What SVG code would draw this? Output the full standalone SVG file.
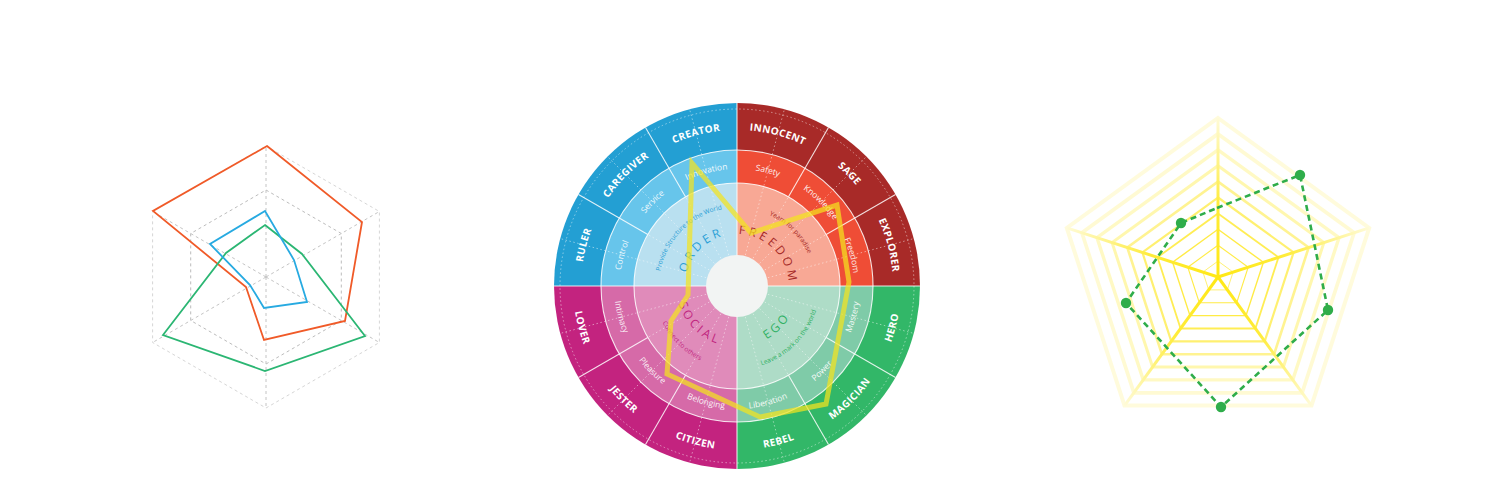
<svg xmlns="http://www.w3.org/2000/svg" width="1500" height="499" viewBox="0 0 1500 499">
<defs>
<style>
.grid{fill:none;stroke-dasharray:3 3;stroke-width:1}
.series{fill:none;stroke-width:1.8;stroke-linejoin:miter}
.wl{stroke:#fff;stroke-width:1.1;fill:none;opacity:.85}
.dot{stroke:#fff;stroke-width:.8;stroke-dasharray:1.5 2.5;fill:none;opacity:.6}
.outer{font-family:"Open Sans","Liberation Sans",sans-serif;font-weight:700;font-size:10px;letter-spacing:.4px;fill:#fff}
.mid{font-family:"Open Sans","Liberation Sans",sans-serif;font-size:8.5px;fill:#fff;opacity:.9}
.title{font-family:"Open Sans","Liberation Sans",sans-serif;font-size:12px;letter-spacing:3.2px}
.sub{font-family:"Open Sans","Liberation Sans",sans-serif;font-size:6.5px}
.lvl{fill:none;stroke:#ffe824;stroke-linejoin:miter}
</style>
<!-- outer label paths -->
<path id="pInnocent" d="M737,130 A156,156 0 0 1 815,150.9"/>
<path id="pSage" d="M815,150.9 A156,156 0 0 1 872.1,208"/>
<path id="pExplorer" d="M872.1,208 A156,156 0 0 1 893,286"/>
<path id="pCreator" d="M659,150.9 A156,156 0 0 1 737,130"/>
<path id="pCaregiver" d="M601.9,208 A156,156 0 0 1 659,150.9"/>
<path id="pRuler" d="M581,286 A156,156 0 0 1 601.9,208"/>
<path id="pHero" d="M879,368 A164,164 0 0 0 901,286"/>
<path id="pMagician" d="M819,428 A164,164 0 0 0 879,368"/>
<path id="pRebel" d="M737,450 A164,164 0 0 0 819,428"/>
<path id="pCitizen" d="M655,428 A164,164 0 0 0 737,450"/>
<path id="pJester" d="M595,368 A164,164 0 0 0 655,428"/>
<path id="pLover" d="M573,286 A164,164 0 0 0 595,368"/>
<!-- middle label paths -->
<path id="mSafety" d="M737,169 A117,117 0 0 1 795.5,184.7"/>
<path id="mKnowledge" d="M795.5,184.7 A117,117 0 0 1 838.3,227.5"/>
<path id="mFreedom" d="M838.3,227.5 A117,117 0 0 1 854,286"/>
<path id="mInnovation" d="M678.5,184.7 A117,117 0 0 1 737,169"/>
<path id="mService" d="M635.7,227.5 A117,117 0 0 1 678.5,184.7"/>
<path id="mControl" d="M620,286 A117,117 0 0 1 635.7,227.5"/>
<path id="mMastery" d="M843.5,347.5 A123,123 0 0 0 860,286"/>
<path id="mPower" d="M798.5,392.5 A123,123 0 0 0 843.5,347.5"/>
<path id="mLiberation" d="M737,409 A123,123 0 0 0 798.5,392.5"/>
<path id="mBelonging" d="M675.5,392.5 A123,123 0 0 0 737,409"/>
<path id="mPleasure" d="M630.5,347.5 A123,123 0 0 0 675.5,392.5"/>
<path id="mIntimacy" d="M614,286 A123,123 0 0 0 630.5,347.5"/>
<!-- inner title paths -->
<path id="tFreedom" d="M723.5,235.8 A52,52 0 0 1 787.2,299.5"/>
<path id="tOrder" d="M686.8,299.5 A52,52 0 0 1 750.5,235.8"/>
<path id="tSocial" d="M678.1,270.2 A61,61 0 0 0 752.8,344.9"/>
<path id="tEgo" d="M721.2,344.9 A61,61 0 0 0 795.9,270.2"/>
<path id="sOrder" d="M666.3,319 A78,78 0 0 1 770,215.3"/>
<path id="sFreedom" d="M704,215.3 A78,78 0 0 1 807.7,319"/>
<path id="sSocial" d="M661.8,250.9 A83,83 0 0 0 772.1,361.2"/>
<path id="sEgo" d="M701.9,361.2 A83,83 0 0 0 812.2,250.9"/>
<linearGradient id="sp0" gradientUnits="userSpaceOnUse" x1="1218" y1="277" x2="1218" y2="118"><stop offset="0" stop-color="#ffe814"/><stop offset=".45" stop-color="#ffec3a"/><stop offset="1" stop-color="#fffbd8"/></linearGradient>
<linearGradient id="sp1" gradientUnits="userSpaceOnUse" x1="1218" y1="277" x2="1369.2" y2="227.9"><stop offset="0" stop-color="#ffe814"/><stop offset=".45" stop-color="#ffec3a"/><stop offset="1" stop-color="#fffbd8"/></linearGradient>
<linearGradient id="sp2" gradientUnits="userSpaceOnUse" x1="1218" y1="277" x2="1311.5" y2="405.6"><stop offset="0" stop-color="#ffe814"/><stop offset=".45" stop-color="#ffec3a"/><stop offset="1" stop-color="#fffbd8"/></linearGradient>
<linearGradient id="sp3" gradientUnits="userSpaceOnUse" x1="1218" y1="277" x2="1124.5" y2="405.6"><stop offset="0" stop-color="#ffe814"/><stop offset=".45" stop-color="#ffec3a"/><stop offset="1" stop-color="#fffbd8"/></linearGradient>
<linearGradient id="sp4" gradientUnits="userSpaceOnUse" x1="1218" y1="277" x2="1066.8" y2="227.9"><stop offset="0" stop-color="#ffe814"/><stop offset=".45" stop-color="#ffec3a"/><stop offset="1" stop-color="#fffbd8"/></linearGradient>
</defs>
<rect width="1500" height="499" fill="#ffffff"/>

<!-- LEFT RADAR -->
<g id="left-radar">
  <g id="left-grid">
    <polygon class="grid" stroke="#d6d6d6" points="266,146 379.4,211.5 379.4,342.5 266,408 152.6,342.5 152.6,211.5"/>
    <polygon class="grid" stroke="#bcbcbc" points="266,190 341.3,233.5 341.3,320.5 266,364 190.7,320.5 190.7,233.5"/>
    <g class="grid" stroke="#c4c4c4">
      <line x1="266" y1="277" x2="266" y2="146"/>
      <line x1="266" y1="277" x2="379.4" y2="211.5"/>
      <line x1="266" y1="277" x2="379.4" y2="342.5"/>
      <line x1="266" y1="277" x2="266" y2="408"/>
      <line x1="266" y1="277" x2="152.6" y2="342.5"/>
      <line x1="266" y1="277" x2="152.6" y2="211.5"/>
    </g>
  </g>
  <polygon id="series-orange" class="series" stroke="#f05a28" points="267,146 362,222 345,321 264,340 246,287 153,211"/>
  <polygon id="series-green" class="series" stroke="#2bb673" points="265,225 302,254 365,336 265,371 163,335 226,253"/>
  <polygon id="series-blue" class="series" stroke="#27aae1" points="265,211 294,260 307,302 264,308 250,285 210,244"/>
</g>

<!-- WHEEL -->
<g id="wheel">
  <g id="q-order">
    <path fill="#239fd3" d="M737,286 L554,286 A183,183 0 0 1 737,103 Z"/>
    <path fill="#67c5eb" d="M737,286 L601,286 A136,136 0 0 1 737,150 Z"/>
    <path fill="#b9e0f0" d="M737,286 L634,286 A103,103 0 0 1 737,183 Z"/>
  </g>
  <g id="q-freedom">
    <path fill="#a82a28" d="M737,286 L737,103 A183,183 0 0 1 920,286 Z"/>
    <path fill="#ef4d36" d="M737,286 L737,150 A136,136 0 0 1 873,286 Z"/>
    <path fill="#f8a895" d="M737,286 L737,183 A103,103 0 0 1 840,286 Z"/>
  </g>
  <g id="q-ego">
    <path fill="#32b768" d="M737,286 L920,286 A183,183 0 0 1 737,469 Z"/>
    <path fill="#7fcba8" d="M737,286 L873,286 A136,136 0 0 1 737,422 Z"/>
    <path fill="#aedcc7" d="M737,286 L840,286 A103,103 0 0 1 737,389 Z"/>
  </g>
  <g id="q-social">
    <path fill="#c3237f" d="M737,286 L737,469 A183,183 0 0 1 554,286 Z"/>
    <path fill="#d66aa8" d="M737,286 L737,422 A136,136 0 0 1 601,286 Z"/>
    <path fill="#e08bba" d="M737,286 L737,389 A103,103 0 0 1 634,286 Z"/>
  </g>
  <g id="wheel-lines">
    <g class="dot">
      <line x1="737" y1="286" x2="784.4" y2="109.2"/>
      <line x1="737" y1="286" x2="866.4" y2="156.6"/>
      <line x1="737" y1="286" x2="913.8" y2="238.6"/>
      <line x1="737" y1="286" x2="913.8" y2="333.4"/>
      <line x1="737" y1="286" x2="866.4" y2="415.4"/>
      <line x1="737" y1="286" x2="784.4" y2="462.8"/>
      <line x1="737" y1="286" x2="689.6" y2="462.8"/>
      <line x1="737" y1="286" x2="607.6" y2="415.4"/>
      <line x1="737" y1="286" x2="560.2" y2="333.4"/>
      <line x1="737" y1="286" x2="560.2" y2="238.6"/>
      <line x1="737" y1="286" x2="607.6" y2="156.6"/>
      <line x1="737" y1="286" x2="689.6" y2="109.2"/>
      <line x1="737" y1="286" x2="788.5" y2="196.8"/>
      <line x1="737" y1="286" x2="826.2" y2="234.5"/>
      <line x1="737" y1="286" x2="826.2" y2="337.5"/>
      <line x1="737" y1="286" x2="788.5" y2="375.2"/>
      <line x1="737" y1="286" x2="685.5" y2="375.2"/>
      <line x1="737" y1="286" x2="647.8" y2="337.5"/>
      <line x1="737" y1="286" x2="647.8" y2="234.5"/>
      <line x1="737" y1="286" x2="685.5" y2="196.8"/>
      <circle cx="737" cy="286" r="177"/>
    </g>
    <circle class="wl" cx="737" cy="286" r="103"/>
    <circle class="wl" cx="737" cy="286" r="136"/>
    <g class="wl">
      <line x1="788.5" y1="196.8" x2="828.5" y2="127.5"/>
      <line x1="826.2" y1="234.5" x2="895.5" y2="194.5"/>
      <line x1="826.2" y1="337.5" x2="895.5" y2="377.5"/>
      <line x1="788.5" y1="375.2" x2="828.5" y2="444.5"/>
      <line x1="685.5" y1="375.2" x2="645.5" y2="444.5"/>
      <line x1="647.8" y1="337.5" x2="578.5" y2="377.5"/>
      <line x1="647.8" y1="234.5" x2="578.5" y2="194.5"/>
      <line x1="685.5" y1="196.8" x2="645.5" y2="127.5"/>
      <line x1="737" y1="103" x2="737" y2="469"/>
      <line x1="554" y1="286" x2="920" y2="286"/>
    </g>
  </g>
  <circle id="wheel-hub" cx="737" cy="286" r="31" fill="#f2f4f3"/>
  <g id="outer-labels" class="outer">
    <text><textPath href="#pInnocent" startOffset="50%" text-anchor="middle">INNOCENT</textPath></text>
    <text><textPath href="#pSage" startOffset="50%" text-anchor="middle">SAGE</textPath></text>
    <text><textPath href="#pExplorer" startOffset="50%" text-anchor="middle">EXPLORER</textPath></text>
    <text><textPath href="#pCreator" startOffset="50%" text-anchor="middle">CREATOR</textPath></text>
    <text><textPath href="#pCaregiver" startOffset="50%" text-anchor="middle">CAREGIVER</textPath></text>
    <text><textPath href="#pRuler" startOffset="50%" text-anchor="middle">RULER</textPath></text>
    <text><textPath href="#pHero" startOffset="50%" text-anchor="middle">HERO</textPath></text>
    <text><textPath href="#pMagician" startOffset="50%" text-anchor="middle">MAGICIAN</textPath></text>
    <text><textPath href="#pRebel" startOffset="50%" text-anchor="middle">REBEL</textPath></text>
    <text><textPath href="#pCitizen" startOffset="50%" text-anchor="middle">CITIZEN</textPath></text>
    <text><textPath href="#pJester" startOffset="50%" text-anchor="middle">JESTER</textPath></text>
    <text><textPath href="#pLover" startOffset="50%" text-anchor="middle">LOVER</textPath></text>
  </g>
  <g id="mid-labels" class="mid">
    <text><textPath href="#mSafety" startOffset="50%" text-anchor="middle">Safety</textPath></text>
    <text><textPath href="#mKnowledge" startOffset="50%" text-anchor="middle">Knowledge</textPath></text>
    <text><textPath href="#mFreedom" startOffset="50%" text-anchor="middle">Freedom</textPath></text>
    <text><textPath href="#mInnovation" startOffset="50%" text-anchor="middle">Innovation</textPath></text>
    <text><textPath href="#mService" startOffset="50%" text-anchor="middle">Service</textPath></text>
    <text><textPath href="#mControl" startOffset="50%" text-anchor="middle">Control</textPath></text>
    <text><textPath href="#mMastery" startOffset="50%" text-anchor="middle">Mastery</textPath></text>
    <text><textPath href="#mPower" startOffset="50%" text-anchor="middle">Power</textPath></text>
    <text><textPath href="#mLiberation" startOffset="50%" text-anchor="middle">Liberation</textPath></text>
    <text><textPath href="#mBelonging" startOffset="50%" text-anchor="middle">Belonging</textPath></text>
    <text><textPath href="#mPleasure" startOffset="50%" text-anchor="middle">Pleasure</textPath></text>
    <text><textPath href="#mIntimacy" startOffset="50%" text-anchor="middle">Intimacy</textPath></text>
  </g>
  <g id="inner-labels">
    <text class="title" fill="#a62a27"><textPath href="#tFreedom" startOffset="50%" text-anchor="middle">FREEDOM</textPath></text>
    <text class="title" fill="#2a9fd6"><textPath href="#tOrder" startOffset="50%" text-anchor="middle">ORDER</textPath></text>
    <text class="title" fill="#c0267f"><textPath href="#tSocial" startOffset="50%" text-anchor="middle">SOCIAL</textPath></text>
    <text class="title" fill="#2fb063"><textPath href="#tEgo" startOffset="50%" text-anchor="middle">EGO</textPath></text>
    <text class="sub" fill="#2a9fd6"><textPath href="#sOrder" startOffset="50%" text-anchor="middle">Provide Structure to the World</textPath></text>
    <text class="sub" fill="#a62a27"><textPath href="#sFreedom" startOffset="50%" text-anchor="middle">Yearn for paradise</textPath></text>
    <text class="sub" fill="#c0267f"><textPath href="#sSocial" startOffset="50%" text-anchor="middle">Connect to others</textPath></text>
    <text class="sub" fill="#2fb063"><textPath href="#sEgo" startOffset="50%" text-anchor="middle">Leave a mark on the world</textPath></text>
  </g>
  <polygon id="wheel-profile" points="692,163 751,233 837,205 849,282 826,404 760,417 667,374 671,321 688,295" fill="none" stroke="#f4e31e" stroke-width="5" stroke-linejoin="miter" opacity=".72"/>
</g>

<!-- RIGHT RADAR -->
<g id="right-radar">
  <g id="pentagon-grid">
    <polygon class="lvl" stroke-width="4" opacity=".16" points="1218,118 1369.2,227.9 1311.5,405.6 1124.5,405.6 1066.8,227.9"/>
    <polygon class="lvl" stroke-width="3.7" opacity=".2" points="1218,133.9 1354.1,232.8 1302.1,392.8 1133.9,392.8 1081.9,232.8"/>
    <polygon class="lvl" stroke-width="3.4" opacity=".27" points="1218,149.8 1339,237.7 1292.8,379.9 1143.2,379.9 1097,237.7"/>
    <polygon class="lvl" stroke-width="3" opacity=".37" points="1218,165.7 1323.9,242.6 1283.4,367 1152.6,367 1112.1,242.6"/>
    <polygon class="lvl" stroke-width="2.6" opacity=".5" points="1218,181.6 1308.7,247.5 1274.1,354.2 1161.9,354.2 1127.3,247.5"/>
    <polygon class="lvl" stroke-width="2.2" opacity=".65" points="1218,197.5 1293.6,252.4 1264.7,341.3 1171.3,341.3 1142.4,252.4"/>
    <polygon class="lvl" stroke-width="1.8" opacity=".78" points="1218,213.4 1278.5,257.3 1255.4,328.5 1180.6,328.5 1157.5,257.3"/>
    <polygon class="lvl" stroke-width="1.4" opacity=".85" points="1218,229.3 1263.4,262.3 1246,315.6 1190,315.6 1172.6,262.3"/>
    <polygon class="lvl" stroke-width="1.1" opacity=".85" points="1218,245.2 1248.2,267.2 1236.7,302.7 1199.3,302.7 1187.8,267.2"/>
    <polygon class="lvl" stroke-width=".8" opacity=".8" points="1218,261.1 1233.1,272.1 1227.3,289.9 1208.7,289.9 1202.9,272.1"/>
  </g>
  <g id="pentagon-spokes" stroke-width="3" stroke-linecap="butt">
    <line x1="1218" y1="277" x2="1218" y2="118" stroke="url(#sp0)"/>
    <line x1="1218" y1="277" x2="1369.2" y2="227.9" stroke="url(#sp1)"/>
    <line x1="1218" y1="277" x2="1311.5" y2="405.6" stroke="url(#sp2)"/>
    <line x1="1218" y1="277" x2="1124.5" y2="405.6" stroke="url(#sp3)"/>
    <line x1="1218" y1="277" x2="1066.8" y2="227.9" stroke="url(#sp4)"/>
  </g>
  <g id="pentagon-series" fill="#2fad4a">
    <polygon points="1217,208 1300,175 1328,310 1221,407 1126,303 1181,223" fill="none" stroke="#2fad4a" stroke-width="2.6" stroke-dasharray="6 4"/>
    <circle cx="1300" cy="175" r="5.2"/>
    <circle cx="1328" cy="310" r="5.2"/>
    <circle cx="1221" cy="407" r="5.2"/>
    <circle cx="1126" cy="303" r="5.2"/>
    <circle cx="1181" cy="223" r="5.2"/>
  </g>
</g>
</svg>
